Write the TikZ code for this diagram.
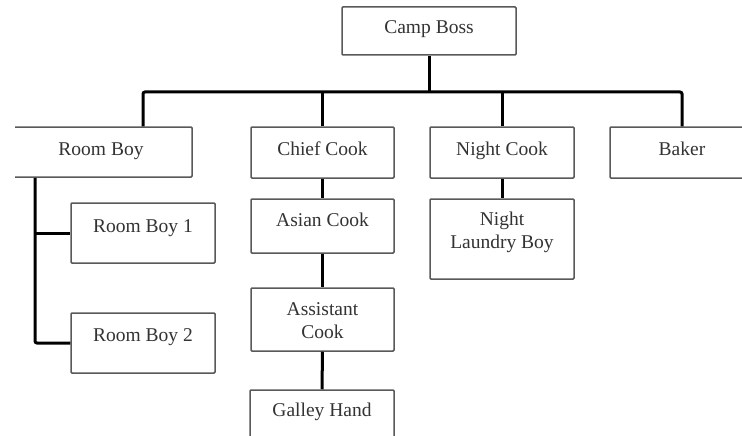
\documentclass[tikz,border=0pt]{standalone}
\usepackage{fontspec}
\setmainfont{Liberation Serif}
\begin{document}
\begin{tikzpicture}[x=1pt,y=-1pt,
  box/.style={draw=black!65, line width=1.5pt, rounded corners=1pt, fill=white, inner sep=0pt},
  lbl/.style={font=\fontsize{19.5}{23}\selectfont, text=black!80, align=center, inner sep=0pt},
  one/.style={lbl, text height=13pt, text depth=4.5pt},
  conn/.style={draw=black, line width=3pt, rounded corners=2pt}]
\useasboundingbox (0,0) rectangle (742,436);
\clip (15,-2) rectangle (742,436);
\coordinate (busL) at (143,92);
\coordinate (busR) at (682,92);
\coordinate (rbx) at (35,177);
% boxes
\node[box, minimum width=202pt, minimum height=50pt] (rb) at (91,152) {};
\node[box, minimum width=174pt, minimum height=48pt] (cb) at (429,31) {};
\node[box, minimum width=143pt, minimum height=51pt] (cc) at (322.5,152.5) {};
\node[box, minimum width=144pt, minimum height=51pt] (nc) at (502,152.5) {};
\node[box, minimum width=144pt, minimum height=51pt] (bk) at (682,152.5) {};
\node[box, minimum width=144pt, minimum height=60pt] (rb1) at (143,233) {};
\node[box, minimum width=144pt, minimum height=60pt] (rb2) at (143,343) {};
\node[box, minimum width=143pt, minimum height=54pt] (ac) at (322.5,226) {};
\node[box, minimum width=143pt, minimum height=63pt] (asc) at (322.5,319.5) {};
\node[box, minimum width=144pt, minimum height=70pt] (gh) at (322,425) {};
\node[box, minimum width=144pt, minimum height=80pt] (nlb) at (502,239) {};
% connectors
\draw[conn] (cb.south) -- (cb.south |- busL);
\draw[conn] (rb.north -| busL) -- (busL) -- (busR) -- (bk.north);
\draw[conn] (cc.north) -- (cc.north |- busL);
\draw[conn] (nc.north) -- (nc.north |- busL);
\draw[conn] (rb.south -| rbx) |- (rb2.west);
\draw[conn] (rbx |- rb1.west) -- (rb1.west);
\draw[conn] (cc.south) -- (ac.north);
\draw[conn] (ac.south) -- (asc.north);
\draw[conn] (asc.south) -- (gh.north);
\draw[conn] (nc.south) -- (nlb.north);
% labels
\node[one] (tcb) at ([yshift=-23pt]cb.north) {Camp Boss};
\node[one] (trb) at ([xshift=10pt,yshift=-24.5pt]rb.north) {Room Boy};
\node[one] (tcc) at ([yshift=-24.5pt]cc.north) {Chief Cook};
\node[one] (tnc) at ([yshift=-24.5pt]nc.north) {Night Cook};
\node[one] (tbk) at ([yshift=-24.5pt]bk.north) {Baker};
\node[one] (trb1) at ([yshift=-26pt]rb1.north) {Room Boy 1};
\node[one] (trb2) at ([yshift=-24.5pt]rb2.north) {Room Boy 2};
\node[one] (tac) at ([yshift=-23.5pt]ac.north) {Asian Cook};
\node[lbl] (tasc) at ([yshift=-33.5pt]asc.north) {Assistant\\Cook};
\node[one] (tgh) at ([yshift=-22.5pt]gh.north) {Galley Hand};
\node[lbl] (tnlb) at ([yshift=-34.5pt]nlb.north) {Night\\Laundry Boy};
\end{tikzpicture}
\end{document}
